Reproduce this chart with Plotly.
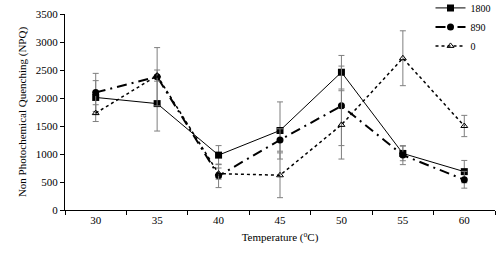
import plotly.graph_objects as go

temps = ["30", "35", "40", "45", "50", "55", "60"]

npq_1800 = [2010, 1900, 980, 1420, 2460, 1010, 685]
err_1800 = [300, 490, 170, 510, 300, 130, 200]

npq_890 = [2100, 2380, 610, 1250, 1860, 980, 540]
err_890 = [340, 520, 210, 200, 710, 170, 150]

npq_0 = [1730, 2400, 650, 620, 1520, 2710, 1500]
err_0 = [150, 100, 100, 400, 610, 490, 190]

font_family = "Liberation Serif, Times New Roman, serif"
err_color = "#7f7f7f"

fig = go.Figure()

fig.add_trace(go.Scatter(
    x=temps, y=npq_1800, name="1800", mode="lines+markers",
    line=dict(color="black", width=1),
    marker=dict(symbol="square", size=7, color="black"),
    error_y=dict(type="data", array=err_1800, color=err_color, thickness=1, width=3),
))
fig.add_trace(go.Scatter(
    x=temps, y=npq_890, name="890", mode="lines+markers",
    line=dict(color="black", width=2, dash="10px,5px,2px,5px"),
    marker=dict(symbol="circle", size=7, color="black"),
    error_y=dict(type="data", array=err_890, color=err_color, thickness=1, width=3),
))
fig.add_trace(go.Scatter(
    x=temps, y=npq_0, name="0", mode="lines+markers",
    line=dict(color="black", width=1.5, dash="dot"),
    marker=dict(symbol="triangle-up-open", size=6, color="black", line=dict(width=1)),
    error_y=dict(type="data", array=err_0, color=err_color, thickness=1, width=3),
))

fig.update_layout(
    width=500, height=255,
    margin=dict(l=65, r=5, t=14, b=45, autoexpand=False),
    paper_bgcolor="white", plot_bgcolor="white",
    font=dict(family=font_family, size=11, color="black"),
    showlegend=True,
    legend=dict(x=0.85, y=1.105, xanchor="left", yanchor="top",
                bgcolor="rgba(0,0,0,0)", font=dict(family=font_family, size=10),
                tracegroupgap=0, itemwidth=30),
    xaxis=dict(
        type="category", range=[-0.5, 6.5], tickson="boundaries",
        ticks="outside", ticklen=4, tickcolor="black",
        showline=True, linecolor="black", linewidth=1,
        showgrid=False, zeroline=False, automargin=False,
        tickfont=dict(family=font_family, size=11),
        title=dict(text="Temperature (<sup>o</sup>C)", standoff=8,
                   font=dict(family=font_family, size=11)),
    ),
    yaxis=dict(
        range=[0, 3500], tickvals=[0, 500, 1000, 1500, 2000, 2500, 3000, 3500],
        ticks="outside", ticklen=4, tickcolor="black",
        showline=True, linecolor="black", linewidth=1,
        showgrid=False, zeroline=False, automargin=False,
        tickfont=dict(family=font_family, size=11),
        title=dict(text="Non Photochemical Quenching (NPQ)", standoff=6,
                   font=dict(family=font_family, size=11)),
    ),
)

fig.write_html("out.html", config={"displayModeBar": False},
               post_script="document.body.style.margin='0px';document.body.style.padding='0px';")
